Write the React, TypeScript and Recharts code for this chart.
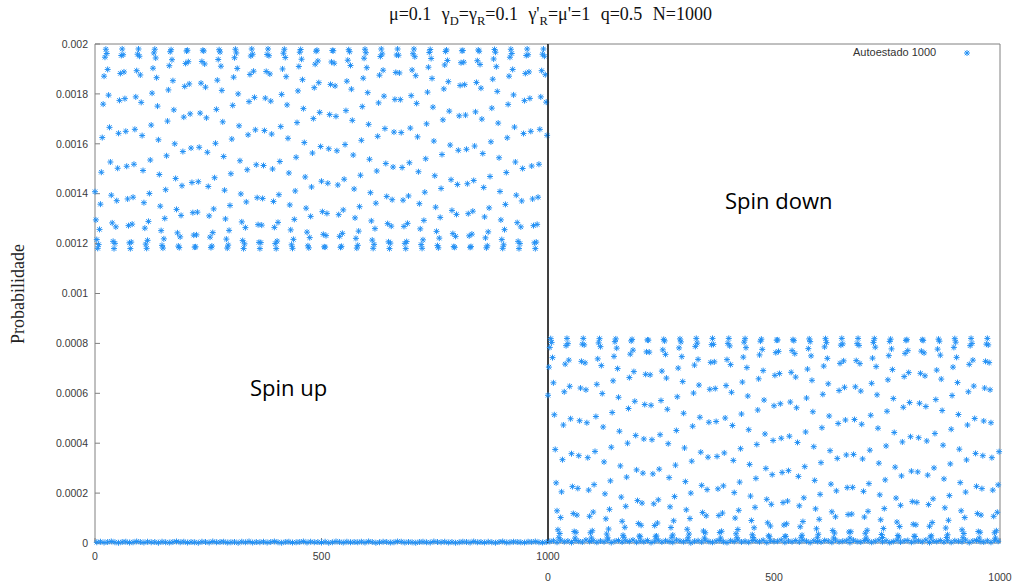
import React from 'react';
import { ScatterChart, Scatter, XAxis, YAxis } from 'recharts';

// Eigenstate 1000, probabilities in units of 1e-6.
// Cloud values: one per even site (x = 0, 2, 4, ... 998).
const upCloud = [
  1408, 1295, 1216, 1181, 1196, 1257, 1358, 1486, 1625, 1759, 1871, 1947, 1979, 1962, 1898, 1795, 1666, 1527,
  1394, 1283, 1209, 1180, 1201, 1267, 1372, 1502, 1642, 1774, 1882, 1954, 1980, 1957, 1888, 1781, 1650, 1510,
  1379, 1272, 1203, 1180, 1206, 1278, 1386, 1518, 1658, 1788, 1893, 1959, 1980, 1951, 1876, 1766, 1633, 1493,
  1364, 1262, 1198, 1181, 1213, 1289, 1401, 1535, 1675, 1803, 1903, 1964, 1979, 1944, 1865, 1751, 1616, 1477,
  1350, 1252, 1193, 1182, 1219, 1301, 1416, 1552, 1691, 1816, 1913, 1969, 1977, 1937, 1853, 1736, 1600, 1461,
  1337, 1243, 1190, 1184, 1227, 1313, 1432, 1569, 1707, 1830, 1922, 1972, 1975, 1929, 1840, 1720, 1583, 1445,
  1324, 1234, 1186, 1187, 1235, 1326, 1448, 1586, 1723, 1843, 1930, 1975, 1972, 1920, 1827, 1704, 1566, 1429,
  1311, 1226, 1184, 1190, 1244, 1339, 1464, 1602, 1738, 1855, 1938, 1977, 1968, 1911, 1814, 1688, 1549, 1414,
  1299, 1218, 1182, 1194, 1253, 1353, 1480, 1619, 1754, 1867, 1945, 1979, 1964, 1902, 1800, 1672, 1532, 1399,
  1287, 1212, 1180, 1199, 1264, 1367, 1496, 1636, 1769, 1878, 1952, 1980, 1959, 1891, 1786, 1656, 1516, 1384,
  1276, 1205, 1180, 1204, 1274, 1381, 1513, 1653, 1783, 1890, 1958, 1980, 1953, 1880, 1771, 1639, 1499, 1369,
  1265, 1200, 1180, 1210, 1285, 1396, 1529, 1669, 1798, 1900, 1963, 1979, 1946, 1869, 1756, 1622, 1483, 1355,
  1255, 1195, 1181, 1217, 1297, 1411, 1546, 1685, 1812, 1910, 1967, 1978, 1939, 1857, 1741, 1605, 1467, 1342,
  1246, 1191, 1183, 1224, 1309, 1427, 1563, 1701, 1825, 1919, 1971, 1975, 1932, 1845, 1726, 1589, 1450, 1328,
  1237, 1187, 1186, 1232, 1321, 1442, 1580, 1717, 1838, 1928, 1974, 1973, 1923, 1832, 1710, 1572, 1435, 1316,
  1229, 1185, 1189, 1241, 1335, 1458, 1597, 1733, 1851, 1935, 1977, 1969, 1914, 1819, 1694, 1555, 1419, 1303,
  1221, 1182, 1193, 1250, 1348, 1474, 1614, 1749, 1863, 1943, 1979, 1965, 1905, 1805, 1678, 1538, 1404, 1291,
  1214, 1181, 1197, 1260, 1362, 1491, 1630, 1764, 1875, 1950, 1980, 1960, 1895, 1791, 1661, 1521, 1389, 1280,
  1207, 1180, 1202, 1270, 1376, 1507, 1647, 1778, 1886, 1956, 1980, 1955, 1884, 1777, 1645, 1505, 1374, 1269,
  1201, 1180, 1208, 1281, 1391, 1524, 1663, 1793, 1896, 1961, 1980, 1949, 1873, 1762, 1628, 1488, 1360, 1259,
  1196, 1181, 1215, 1293, 1406, 1540, 1680, 1807, 1907, 1966, 1978, 1942, 1862, 1747, 1611, 1472, 1346, 1249,
  1192, 1183, 1222, 1305, 1421, 1557, 1696, 1820, 1916, 1970, 1976, 1934, 1849, 1731, 1595, 1456, 1333, 1240,
  1188, 1185, 1229, 1317, 1437, 1574, 1712, 1834, 1925, 1973, 1974, 1927, 1837, 1715, 1578, 1440, 1320, 1231,
  1185, 1188, 1238, 1330, 1453, 1591, 1728, 1846, 1933, 1976, 1971, 1918, 1823, 1699, 1561, 1425, 1307, 1223,
  1183, 1191, 1247, 1343, 1469, 1608, 1743, 1859, 1940, 1978, 1967, 1909, 1810, 1683, 1544, 1409, 1295, 1216,
  1181, 1195, 1256, 1357, 1485, 1624, 1758, 1871, 1947, 1979, 1962, 1898, 1796, 1667, 1527, 1394, 1284, 1209,
  1180, 1200, 1267, 1371, 1501, 1641, 1773, 1882, 1954, 1980, 1957, 1888, 1782, 1650, 1511, 1379, 1272, 1203,
  1180, 1206, 1277, 1386, 1518, 1658, 1788, 1893, 1959, 1980, 1951, 1877, 1767, 1634,
];

const downCloud = [
  592, 705, 784, 819, 804, 743, 642, 514, 375, 241, 129, 53, 21, 38, 102, 205, 334, 473,
  606, 717, 791, 820, 799, 733, 628, 498, 358, 226, 118, 46, 20, 43, 112, 219, 350, 490,
  621, 728, 797, 820, 794, 722, 614, 482, 342, 212, 107, 41, 20, 49, 124, 234, 367, 507,
  636, 738, 802, 819, 787, 711, 599, 465, 325, 197, 97, 36, 21, 56, 135, 249, 384, 523,
  650, 748, 807, 818, 781, 699, 584, 448, 309, 184, 87, 31, 23, 63, 147, 264, 400, 539,
  663, 757, 810, 816, 773, 687, 568, 431, 293, 170, 78, 28, 25, 71, 160, 280, 417, 555,
  676, 766, 814, 813, 765, 674, 552, 414, 277, 157, 70, 25, 28, 80, 173, 296, 434, 571,
  689, 774, 816, 810, 756, 661, 536, 398, 262, 145, 62, 23, 32, 89, 186, 312, 451, 586,
  701, 782, 818, 806, 747, 647, 520, 381, 246, 133, 55, 21, 36, 98, 200, 328, 468, 601,
  713, 788, 820, 801, 736, 633, 504, 364, 231, 122, 48, 20, 41, 109, 214, 344, 484, 616,
  724, 795, 820, 796, 726, 619, 487, 347, 217, 110, 42, 20, 47, 120, 229, 361, 501, 631,
  735, 800, 820, 790, 715, 604, 471, 331, 202, 100, 37, 21, 54, 131, 244, 378, 517, 645,
  745, 805, 819, 783, 703, 589, 454, 315, 188, 90, 33, 22, 61, 143, 259, 395, 533, 658,
  754, 809, 817, 776, 691, 573, 437, 299, 175, 81, 29, 25, 68, 155, 274, 411, 550, 672,
  763, 813, 814, 768, 679, 558, 420, 283, 162, 72, 26, 27, 77, 168, 290, 428, 565, 684,
  771, 815, 811, 759, 665, 542, 403, 267, 149, 65, 23, 31, 86, 181, 306, 445, 581, 697,
  779, 818, 807, 750, 652, 526, 386, 251, 137, 57, 21, 35, 95, 195, 322, 462, 596, 709,
  786, 819, 803, 740, 638, 509, 370, 236, 125, 50, 20, 40, 105, 209, 339, 479, 611, 720,
  793, 820, 798, 730, 624, 493, 353, 222, 114, 44, 20, 45, 116, 223, 355, 495, 626, 731,
  799, 820, 792, 719, 609, 476, 337, 207, 104, 39, 20, 51, 127, 238, 372, 512, 640, 741,
  804, 819, 785, 707, 594, 460, 320, 193, 93, 34, 22, 58, 138, 253, 389, 528, 654, 751,
  808, 817, 778, 695, 579, 443, 304, 180, 84, 30, 24, 66, 151, 269, 405, 544, 667, 760,
  812, 815, 771, 683, 563, 426, 288, 166, 75, 27, 26, 73, 163, 285, 422, 560, 680, 769,
  815, 812, 762, 670, 547, 409, 272, 154, 67, 24, 29, 82, 177, 301, 439, 575, 693, 777,
  817, 809, 753, 657, 531, 392, 257, 141, 60, 22, 33, 91, 190, 317, 456, 591, 705, 784,
  819, 805, 744, 643, 515, 376, 242, 129, 53, 21, 38, 102, 204, 333, 473, 606, 716, 791,
  820, 800, 733, 629, 499, 359, 227, 118, 46, 20, 43, 112, 218, 350, 489, 621, 728, 797,
  820, 794, 723, 614, 482, 342, 212, 107, 41, 20, 49, 123, 233, 366,
];

// Near-zero components, one value every 8 sites (x = 4, 12, ... 996).
const upBand = [
  3, 5, 2, 4, 6, 3, 1, 4, 5, 2, 3, 6, 4, 2, 5, 3, 4, 1, 5, 3, 2, 4, 6, 3, 5,
  2, 4, 3, 1, 5, 4, 2, 6, 3, 4, 5, 2, 3, 4, 1, 5, 3, 6, 2, 4, 3, 5, 2, 4, 6,
  3, 1, 4, 5, 2, 3, 4, 6, 2, 5, 3, 4, 2, 5, 1, 3, 6, 4, 2, 5, 3, 4, 3, 5, 2,
  6, 4, 1, 3, 5, 4, 2, 3, 6, 5, 2, 4, 3, 1, 4, 5, 3, 2, 6, 4, 3, 5, 2, 4, 1,
  3, 5, 4, 2, 6, 3, 4, 2, 5, 3, 1, 4, 6, 2, 3, 5, 4, 3, 2, 5, 4, 6, 3, 2, 4,
];

const downBand = [
  6, 9, 3, 11, 5, 8, 2, 10, 7, 4, 12, 6, 9, 3, 8, 5, 11, 2, 7, 10, 4, 9, 6, 12, 3,
  8, 5, 10, 2, 7, 11, 4, 9, 6, 3, 12, 8, 5, 10, 1, 7, 9, 4, 11, 6, 3, 8, 10, 5, 2,
  9, 6, 12, 4, 7, 3, 10, 8, 5, 11, 2, 9, 6, 7, 12, 3, 8, 5, 10, 4, 11, 7, 2, 9, 6,
  4, 10, 8, 3, 12, 5, 7, 9, 2, 11, 6, 4, 10, 8, 3, 7, 12, 5, 9, 2, 6, 11, 4, 8, 10,
  3, 7, 9, 5, 12, 2, 8, 6, 10, 4, 11, 3, 9, 7, 5, 12, 2, 8, 10, 6, 4, 9, 3, 11, 7,
];

const xTicks = [0, 500, 1000];
const yTicks = [0, 200, 400, 600, 800, 1000, 1200, 1400, 1600, 1800, 2000];

const BLUE = '#2290f5';
const FRAME = '#808080';
const TICK_FONT = { fontSize: 10.5, fill: '#3a3a3a', fontFamily: '"Liberation Sans", Arial, sans-serif' };

const rows = (vals: number[], start: number, step: number) =>
  vals.map((v, i) => ({ x: start + i * step, y: v }));

const upRows = rows(upCloud, 0, 2);
const downRows = rows(downCloud, 0, 2);
const upBandRows = rows(upBand, 4, 8);
const downBandRows = rows(downBand, 4, 8);

const fmtY = (v: number) => (v === 0 ? '0' : String(v / 1e6));
const blank = () => '';

// gnuplot-style "*" point
function Star(props: any) {
  const { cx, cy } = props;
  if (cx == null || cy == null) return <g />;
  const r = 3;
  const d = 2.2;
  return (
    <g stroke={BLUE} strokeWidth={1}>
      <line x1={cx - r} y1={cy} x2={cx + r} y2={cy} />
      <line x1={cx} y1={cy - r} x2={cx} y2={cy + r} />
      <line x1={cx - d} y1={cy - d} x2={cx + d} y2={cy + d} />
      <line x1={cx - d} y1={cy + d} x2={cx + d} y2={cy - d} />
    </g>
  );
}

function Panel({
  width,
  margin,
  cloud,
  band,
  labelGap,
  showYLabels,
}: {
  width: number;
  margin: { top: number; right: number; bottom: number; left: number };
  cloud: { x: number; y: number }[];
  band: { x: number; y: number }[];
  labelGap: number;
  showYLabels: boolean;
}) {
  return (
    <ScatterChart width={width} height={587} margin={margin}>
      <XAxis
        xAxisId="b"
        type="number"
        dataKey="x"
        domain={[0, 1000]}
        ticks={xTicks}
        interval={0}
        height={30}
        tickSize={-5}
        tickMargin={labelGap}
        axisLine={{ stroke: FRAME }}
        tickLine={{ stroke: FRAME }}
        tick={TICK_FONT}
      />
      <XAxis
        xAxisId="t"
        orientation="top"
        type="number"
        dataKey="x"
        domain={[0, 1000]}
        ticks={xTicks}
        interval={0}
        height={1}
        tickSize={-5}
        tickFormatter={blank}
        axisLine={{ stroke: FRAME }}
        tickLine={{ stroke: FRAME }}
      />
      {showYLabels ? (
        <YAxis
          yAxisId="l"
          type="number"
          dataKey="y"
          domain={[0, 2000]}
          ticks={yTicks}
          interval={0}
          width={95}
          tickSize={-5}
          tickMargin={12}
          tickFormatter={fmtY}
          axisLine={{ stroke: FRAME }}
          tickLine={{ stroke: FRAME }}
          tick={TICK_FONT}
        />
      ) : (
        <YAxis
          yAxisId="l"
          type="number"
          dataKey="y"
          domain={[0, 2000]}
          width={8}
          tick={false}
          tickLine={false}
          axisLine={{ stroke: '#000' }}
        />
      )}
      {showYLabels ? (
        <YAxis
          yAxisId="r"
          orientation="right"
          type="number"
          dataKey="y"
          domain={[0, 2000]}
          width={1}
          tick={false}
          tickLine={false}
          axisLine={{ stroke: '#000' }}
        />
      ) : (
        <YAxis
          yAxisId="r"
          orientation="right"
          type="number"
          dataKey="y"
          domain={[0, 2000]}
          ticks={yTicks}
          interval={0}
          width={1}
          tickSize={-5}
          tickFormatter={blank}
          axisLine={{ stroke: FRAME }}
          tickLine={{ stroke: FRAME }}
        />
      )}
      <Scatter xAxisId="b" yAxisId="l" data={band} shape={Star} isAnimationActive={false} />
      <Scatter xAxisId="b" yAxisId="l" data={cloud} shape={Star} isAnimationActive={false} />
    </ScatterChart>
  );
}

const subStyle = { fontSize: 12.5 };

export default function App() {
  return (
    <div
      style={{
        position: 'absolute',
        left: 0,
        top: 0,
        width: 1020,
        height: 587,
        background: '#fff',
        overflow: 'hidden',
      }}
    >
      <div style={{ position: 'absolute', left: 0, top: 0 }}>
        <Panel
          width={560}
          margin={{ top: 43, right: 11, bottom: 14, left: 0 }}
          cloud={upRows}
          band={upBandRows}
          labelGap={15}
          showYLabels
        />
      </div>
      <div style={{ position: 'absolute', left: 540, top: 0 }}>
        <Panel
          width={480}
          margin={{ top: 43, right: 19, bottom: 14, left: 0 }}
          cloud={downRows}
          band={downBandRows}
          labelGap={36}
          showYLabels={false}
        />
      </div>

      <div
        style={{
          position: 'absolute',
          left: 389,
          top: 4,
          fontFamily: '"Liberation Serif", "Times New Roman", serif',
          fontSize: 18,
          wordSpacing: 6,
          color: '#111',
          whiteSpace: 'nowrap',
        }}
      >
        μ=0.1 γ<sub style={subStyle}>D</sub>=γ<sub style={subStyle}>R</sub>=0.1 γ'
        <sub style={subStyle}>R</sub>=μ'=1 q=0.5 N=1000
      </div>

      <div
        style={{
          position: 'absolute',
          left: 18,
          top: 294,
          transform: 'translate(-50%, -50%) rotate(-90deg)',
          fontFamily: '"Liberation Serif", "Times New Roman", serif',
          fontSize: 18,
          color: '#222',
          whiteSpace: 'nowrap',
        }}
      >
        Probabilidade
      </div>

      <div
        style={{
          position: 'absolute',
          left: 853,
          top: 46,
          fontFamily: '"Liberation Sans", Arial, sans-serif',
          fontSize: 11,
          color: '#333',
          whiteSpace: 'nowrap',
        }}
      >
        Autoestado 1000
      </div>
      <svg style={{ position: 'absolute', left: 960, top: 46 }} width={14} height={14}>
        <Star cx={7} cy={7} />
      </svg>

      <div
        style={{
          position: 'absolute',
          left: 250,
          top: 372,
          fontFamily: '"Open Sans", sans-serif',
          fontSize: 22,
          color: '#000',
          whiteSpace: 'nowrap',
        }}
      >
        Spin up
      </div>
      <div
        style={{
          position: 'absolute',
          left: 725,
          top: 185,
          fontFamily: '"Open Sans", sans-serif',
          fontSize: 22,
          color: '#000',
          whiteSpace: 'nowrap',
        }}
      >
        Spin down
      </div>
    </div>
  );
}
